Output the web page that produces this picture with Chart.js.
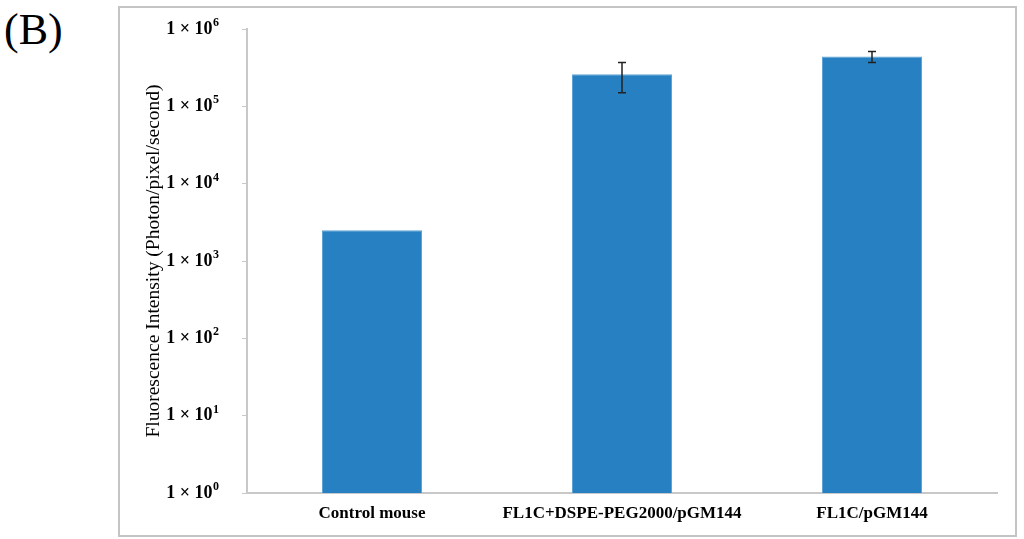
<!DOCTYPE html>
<html>
<head>
<meta charset="utf-8">
<script src="https://cdn.jsdelivr.net/npm/chart.js@4"></script>
<style>
  body { margin: 0; background: #fff; }
  #wrap { position: relative; width: 1024px; height: 539px; }
  #frame { position: absolute; left: 118px; top: 6px; width: 895px; height: 527px; border: 2px solid #c4c4c4; }
  #panel { position: absolute; left: 4px; top: 4px; font: 44px 'Liberation Serif', serif; color: #000; }
  canvas { position: absolute; left: 0; top: 0; }
</style>
</head>
<body>
<div id="wrap">
  <div id="frame"></div>
  <div id="panel">(B)</div>
  <canvas id="myChart" width="1024" height="539"></canvas>
</div>
<script>
const groups = ['Control mouse', 'FL1C+DSPE-PEG2000/pGM144', 'FL1C/pGM144'];
const intensity = [2500, 260000, 440000];
const errors = [0, 110000, 70000];
const tickExps = [0, 1, 2, 3, 4, 5, 6];

// error bars, drawn through the y scale
const errorBars = {
  id: 'errorBars',
  afterDatasetsDraw(chart) {
    const ctx = chart.ctx;
    const meta = chart.getDatasetMeta(0);
    const y = chart.scales.y;
    ctx.save();
    ctx.strokeStyle = '#222';
    ctx.lineWidth = 1.5;
    meta.data.forEach(function (bar, i) {
      if (!errors[i]) return;
      const top = y.getPixelForValue(intensity[i] + errors[i]);
      const bot = y.getPixelForValue(intensity[i] - errors[i]);
      ctx.beginPath();
      ctx.moveTo(bar.x, top); ctx.lineTo(bar.x, bot);
      ctx.moveTo(bar.x - 4, top); ctx.lineTo(bar.x + 4, top);
      ctx.moveTo(bar.x - 4, bot); ctx.lineTo(bar.x + 4, bot);
      ctx.stroke();
    });
    ctx.restore();
  }
};

// "1 × 10^n" labels with a real superscript exponent
const powerLabels = {
  id: 'powerLabels',
  afterDraw(chart) {
    const ctx = chart.ctx;
    const y = chart.scales.y;
    const right = y.right - 5 - 23;
    ctx.save();
    ctx.fillStyle = '#000';
    ctx.textBaseline = 'middle';
    y.ticks.forEach(function (t) {
      const e = String(Math.round(Math.log10(t.value)));
      const py = y.getPixelForValue(t.value);
      ctx.font = 'bold 12px "Liberation Serif"';
      const ew = ctx.measureText(e).width;
      ctx.textAlign = 'left';
      ctx.fillText(e, right - ew, py - 6);
      ctx.font = 'bold 18px "Liberation Serif"';
      ctx.textAlign = 'right';
      ctx.fillText('1 × 10', right - ew - 0.5, py);
    });
    ctx.restore();
  }
};

const config = {
  type: 'bar',
  data: {
    labels: groups,
    datasets: [{
      data: intensity,
      backgroundColor: '#2680c2',
      borderColor: '#5fa3d6',
      borderWidth: 1,
      barPercentage: 0.4,
      categoryPercentage: 1
    }]
  },
  options: {
    responsive: false,
    animation: false,
    layout: { padding: { left: 139, right: 27, top: 29, bottom: 0 } },
    plugins: {
      legend: { display: false },
      tooltip: { enabled: false }
    },
    scales: {
      x: {
        grid: { display: false, drawTicks: false },
        border: { display: true, color: '#c8c8c8', width: 2 },
        ticks: {
          color: '#000',
          padding: 10,
          font: { family: 'Liberation Serif', size: 17, weight: 'bold' }
        },
        afterFit(scale) { scale.height = 46; }
      },
      y: {
        type: 'logarithmic',
        min: 1,
        max: 1000000,
        grid: { drawOnChartArea: false, drawTicks: true, tickLength: 5, color: '#c8c8c8' },
        border: { display: true, color: '#c8c8c8', width: 2 },
        afterBuildTicks(scale) {
          scale.ticks = tickExps.map(function (e) { return { value: Math.pow(10, e) }; });
        },
        ticks: {
          display: false
        },
        title: {
          display: true,
          text: 'Fluorescence Intensity (Photon/pixel/second)',
          color: '#000',
          padding: { top: 3, bottom: 0 },
          font: { family: 'Liberation Serif', size: 19.5, weight: 'normal' }
        },
        afterFit(scale) { scale.width = 108; }
      }
    }
  },
  plugins: [errorBars, powerLabels]
};

var myChart = new Chart(document.getElementById('myChart'), config);
</script>
</body>
</html>
